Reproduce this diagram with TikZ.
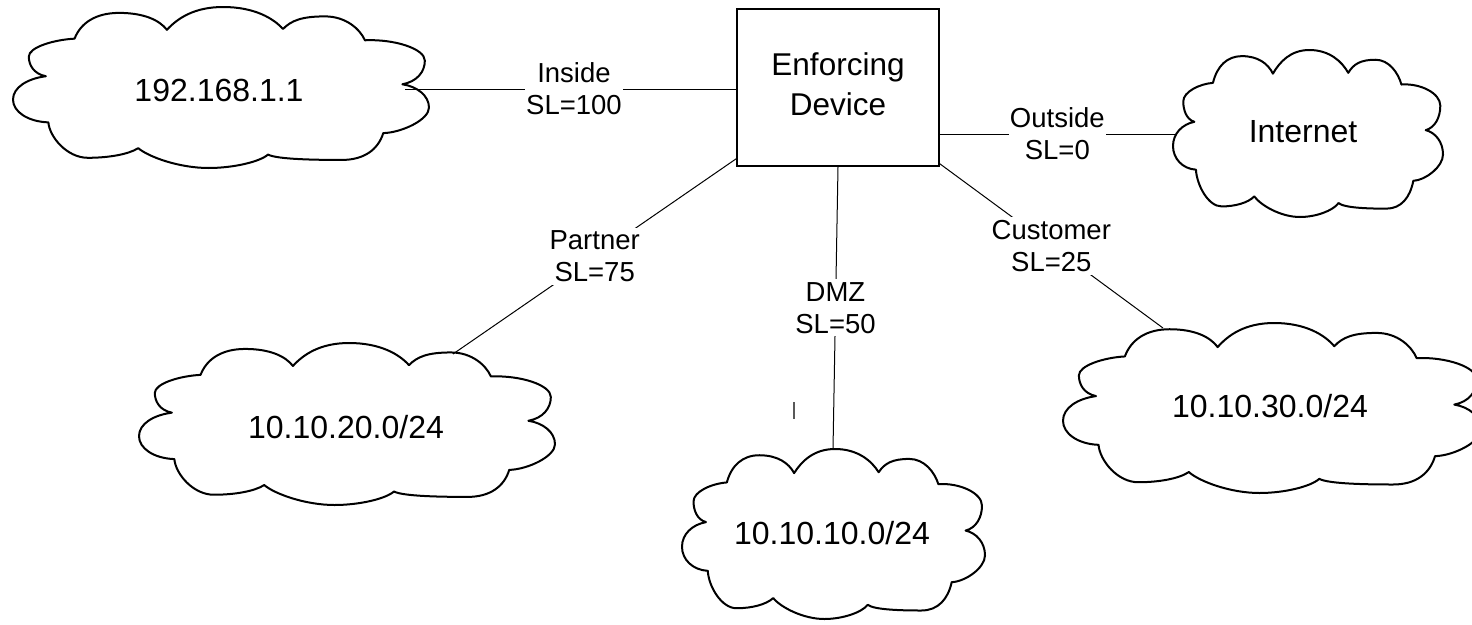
\documentclass[tikz,border=0pt]{standalone}
\usepackage{fontspec}
\setmainfont{Liberation Sans}
\tikzset{
  cloudline/.style={draw=black, line width=2pt, line join=round},
  conn/.style={draw=black, line width=1pt},
  lbl/.style={fill=white, align=center, inner xsep=1pt, inner ysep=3pt,
    font=\fontsize{27.5}{32}\selectfont},
  boxst/.style={draw=black, line width=1.3pt, rectangle, inner sep=0pt},
  devtxt/.style={align=center, inner sep=0pt, font=\fontsize{31.5}{40}\selectfont},
  cloudtxt/.style={inner sep=0pt, font=\fontsize{32}{38}\selectfont},
}
\newcommand\drawnetcloud[4]{%
  \pgfmathsetmacro\ncx{#3/100}%
  \pgfmathsetmacro\ncy{#4/60}%
  \begin{scope}[shift={(#1,#2)}, x=\ncx pt, y=-\ncy pt]
    \draw[cloudline] (14.8,11.8)
      .. controls (16.3,5.8) and (20,2.2) .. (25.5,2.2)
      .. controls (31.5,2.2) and (35.2,4.9) .. (37.0,8.5)
      .. controls (39.5,4.3) and (43.5,0) .. (50.5,0)
      .. controls (58,0) and (62.6,4.2) .. (64.9,8.2)
      .. controls (66.9,5.0) and (69.5,3.5) .. (75,3.5)
      .. controls (80,3.5) and (83.4,8.2) .. (84.6,12.4)
      .. controls (91.6,11.9) and (99,15.5) .. (99,20)
      .. controls (99,24.2) and (97.1,27.8) .. (93.6,28.8)
      .. controls (97.1,29.6) and (100,33) .. (100,37.5)
      .. controls (100,42) and (93.5,46.8) .. (89,47)
      .. controls (87.8,53) and (84.5,57) .. (79,57)
      .. controls (73,57) and (63.5,56.8) .. (61.3,55.0)
      .. controls (59.3,57.7) and (53,60) .. (47,60)
      .. controls (40,60) and (32.6,55.9) .. (30.1,52.6)
      .. controls (27.8,54.9) and (23,56.2) .. (18,56.2)
      .. controls (13,56.2) and (8.8,48.5) .. (8.5,43.0)
      .. controls (3.5,42.7) and (0,39) .. (0,34.5)
      .. controls (0,30) and (3.4,26.7) .. (7.9,25.8)
      .. controls (4.9,24.9) and (3.8,21.5) .. (3.8,18.5)
      .. controls (3.8,15) and (9.8,12.2) .. (14.8,11.8)
      -- cycle;
  \end{scope}}
\begin{document}
\begin{tikzpicture}[x=1pt, y=-1pt]
  \fill[white] (0,0) rectangle (1472,624);
  \useasboundingbox (0,0) rectangle (1472,624);

  % clouds
  \drawnetcloud{13}{7}{416}{161}
  \drawnetcloud{139}{343}{416}{162}
  \drawnetcloud{682}{449}{303}{170}
  \drawnetcloud{1063}{323}{418}{170}
  \drawnetcloud{1173}{50}{270}{167}

  % cloud texts
  \node[cloudtxt] (n1) at (219,90) {192.168.1.1};
  \node[cloudtxt] (n2) at (346,427) {10.10.20.0/24};
  \node[cloudtxt] (n3) at (832,533) {10.10.10.0/24};
  \node[cloudtxt] (n4) at (1270,406) {10.10.30.0/24};
  \node[cloudtxt] (inet) at (1303,132) {Internet};

  % device
  \node[boxst, minimum width=202pt, minimum height=157pt] (dev) at (838,87.5) {};
  \node[devtxt] (devlabel) at (838,84) {Enforcing\\Device};

  % attachment points on the clouds
  \coordinate (c1r) at (405,89);
  \coordinate (inetl) at (1175,134);
  \coordinate (c2t) at (453,354);
  \coordinate (c3t) at (833,449);
  \coordinate (c4t) at (1163,328);

  % connectors
  \draw[conn] (c1r) -- node[lbl, pos=0.51] (lin) {Inside\\SL=100} (c1r -| dev.west);
  \draw[conn] (dev.east |- inetl) -- node[lbl] (lout) {Outside\\SL=0} (inetl);
  \draw[conn] ([yshift=8pt]dev.south west) -- node[lbl] (lpart) {Partner\\SL=75} (c2t);
  \draw[conn] (dev.south) -- node[lbl] (ldmz) {DMZ\\SL=50} (c3t);
  \draw[conn] ([yshift=3pt]dev.south east) -- node[lbl] (lcust) {Customer\\SL=25} (c4t);

  % stray mark
  \draw[black!65, line width=1.1pt] (794,402) -- (794,419);
\end{tikzpicture}
\end{document}
